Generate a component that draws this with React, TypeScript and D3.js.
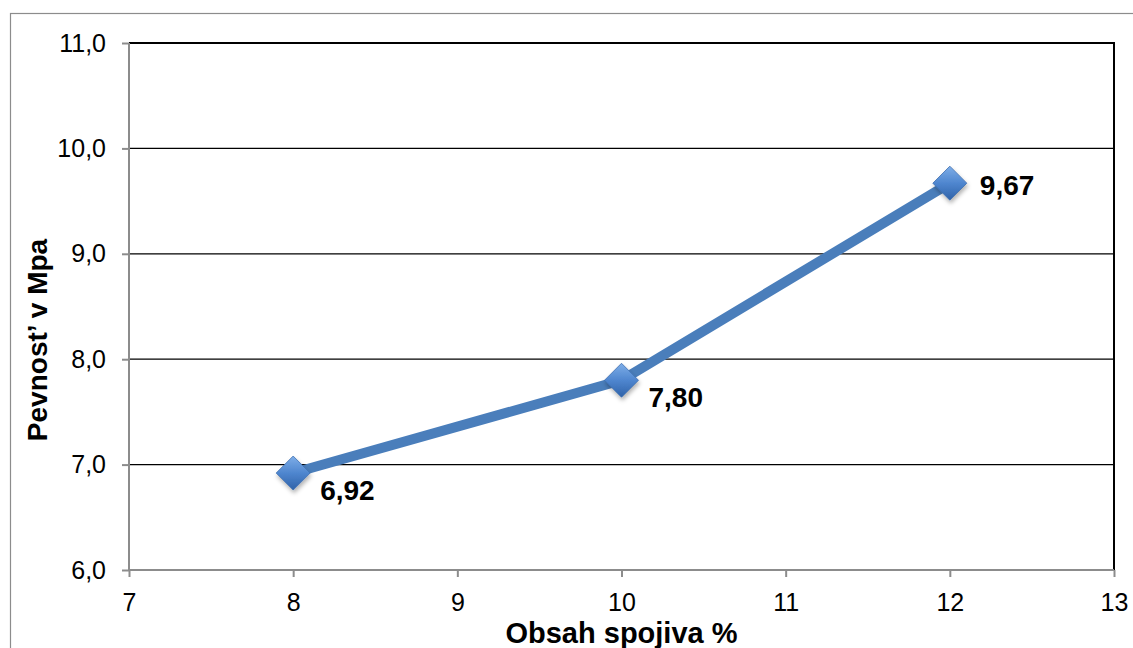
import React, { useEffect, useRef } from "react";
import * as d3 from "d3";

// Binder content (%) vs. strength (MPa)
const binderContent = [8, 10, 12];
const strength = [6.92, 7.8, 9.67];
const xTicks = [7, 8, 9, 10, 11, 12, 13];
const yTicks = [6, 7, 8, 9, 10, 11];
const xTitle = "Obsah spojiva %";
const yTitle = "Pevnost’ v Mpa";

const W = 1133;
const H = 648;
const M = { left: 129, right: 1114, top: 43, bottom: 570 };
const FONT = "'Liberation Sans', Arial, sans-serif";
const BLUE = "#4a7ebb";

const fmtComma = (v: number, d: number) => v.toFixed(d).replace(".", ",");

export default function App() {
  const ref = useRef<SVGSVGElement>(null);

  useEffect(() => {
    const svg = d3.select(ref.current);
    svg.selectAll("*").remove();

    const x = d3.scaleLinear().domain([7, 13]).range([M.left, M.right]);
    const y = d3.scaleLinear().domain([6, 11]).range([M.bottom, M.top]);

    const defs = svg.append("defs");
    const grad = defs
      .append("linearGradient")
      .attr("id", "mk")
      .attr("x1", 0)
      .attr("y1", 0)
      .attr("x2", 0)
      .attr("y2", 1);
    grad.append("stop").attr("offset", "0%").attr("stop-color", "#7eaee8");
    grad.append("stop").attr("offset", "50%").attr("stop-color", "#4f86cf");
    grad.append("stop").attr("offset", "100%").attr("stop-color", "#2f62a8");
    const flt = defs.append("filter").attr("id", "sh").attr("x", "-50%").attr("y", "-50%").attr("width", "200%").attr("height", "200%");
    flt
      .append("feDropShadow")
      .attr("dx", 1)
      .attr("dy", 3)
      .attr("stdDeviation", 2)
      .attr("flood-color", "#000")
      .attr("flood-opacity", 0.3);

    // Outer chart frame
    svg
      .append("rect")
      .attr("x", 10.5)
      .attr("y", 13.5)
      .attr("width", W)
      .attr("height", H)
      .attr("fill", "#fff")
      .attr("stroke", "#8c8c8c")
      .attr("stroke-width", 1.2);

    // Horizontal gridlines
    svg
      .append("g")
      .selectAll("line")
      .data(yTicks.filter((t) => t > 6))
      .join("line")
      .attr("x1", M.left)
      .attr("x2", M.right)
      .attr("y1", (d) => y(d))
      .attr("y2", (d) => y(d))
      .attr("stroke", "#000")
      .attr("stroke-width", (d) => (d === 11 ? 2 : 1.2));

    // Right plot edge
    svg
      .append("line")
      .attr("x1", M.right)
      .attr("x2", M.right)
      .attr("y1", M.top - 1)
      .attr("y2", M.bottom)
      .attr("stroke", "#000")
      .attr("stroke-width", 2);

    // Axes
    const axisColor = "#8c8c8c";
    const yAxis = svg
      .append("g")
      .attr("transform", `translate(${M.left},0)`)
      .call(
        d3
          .axisLeft(y)
          .tickValues(yTicks)
          .tickSize(7)
          .tickPadding(16)
          .tickFormat((d) => fmtComma(d as number, 1))
      );
    const xAxis = svg
      .append("g")
      .attr("transform", `translate(0,${M.bottom})`)
      .call(
        d3
          .axisBottom(x)
          .tickValues(xTicks)
          .tickSize(7)
          .tickPadding(16)
          .tickFormat((d) => String(d))
      );
    [yAxis, xAxis].forEach((g) => {
      g.select(".domain").attr("stroke", axisColor).attr("stroke-width", 2);
      g.selectAll(".tick line").attr("stroke", axisColor).attr("stroke-width", 2);
      g.selectAll(".tick text")
        .attr("fill", "#000")
        .attr("font-family", FONT)
        .attr("font-size", 25);
    });
    // Plain domain lines without end caps
    yAxis.select(".domain").attr("d", `M0,${M.top}V${M.bottom}`);
    xAxis.select(".domain").attr("d", `M${M.left},0H${M.right}`);

    // Series line
    const pts = binderContent.map((b, i) => [b, strength[i]] as [number, number]);
    svg
      .append("path")
      .datum(pts)
      .attr("fill", "none")
      .attr("stroke", BLUE)
      .attr("stroke-width", 10)
      .attr("stroke-linejoin", "round")
      .attr("d", d3.line<[number, number]>().x((d) => x(d[0])).y((d) => y(d[1])));

    // Diamond markers
    const s = 17;
    svg
      .append("g")
      .selectAll("path")
      .data(pts)
      .join("path")
      .attr("transform", (d) => `translate(${x(d[0])},${y(d[1])})`)
      .attr("d", `M0,${-s}L${s},0L0,${s}L${-s},0Z`)
      .attr("fill", "url(#mk)")
      .attr("stroke", "#3d6fb0")
      .attr("stroke-width", 0.8)
      .attr("filter", "url(#sh)");

    // Value labels: the highest point's label sits level with it, others below-right
    const top = d3.max(strength);
    svg
      .append("g")
      .selectAll("text")
      .data(pts)
      .join("text")
      .attr("x", (d) => x(d[0]) + (d[1] === top ? 30 : 27))
      .attr("y", (d) => y(d[1]) + (d[1] === top ? 12 : 27))
      .attr("font-family", FONT)
      .attr("font-weight", "bold")
      .attr("font-size", 28)
      .attr("fill", "#000")
      .text((d) => fmtComma(d[1], 2));

    // Axis titles
    svg
      .append("text")
      .attr("x", (M.left + M.right) / 2)
      .attr("y", 643)
      .attr("text-anchor", "middle")
      .attr("font-family", FONT)
      .attr("font-weight", "bold")
      .attr("font-size", 29)
      .attr("fill", "#000")
      .text(xTitle);

    svg
      .append("text")
      .attr("transform", `translate(47,340) rotate(-90)`)
      .attr("text-anchor", "middle")
      .attr("font-family", FONT)
      .attr("font-weight", "bold")
      .attr("font-size", 28)
      .attr("fill", "#000")
      .text(yTitle);
  }, []);

  return (
    <svg
      ref={ref}
      width={W}
      height={H}
      style={{ position: "absolute", left: 0, top: 0, background: "#fff" }}
    />
  );
}
